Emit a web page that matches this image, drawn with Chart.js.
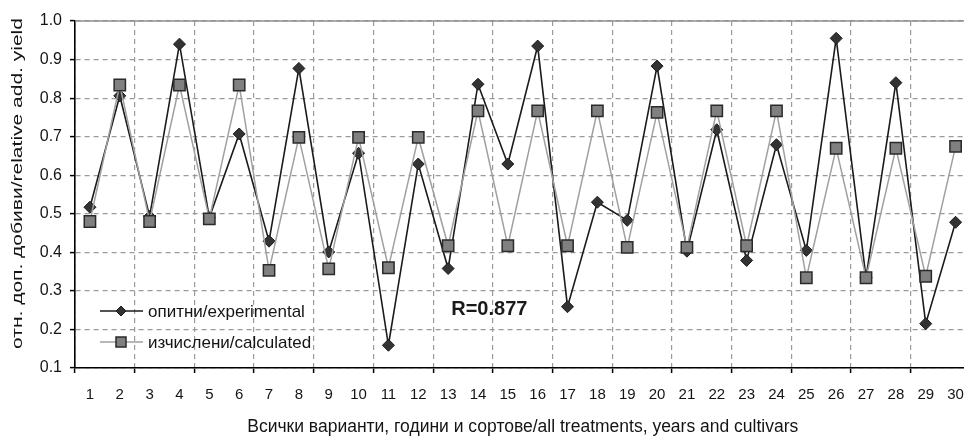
<!DOCTYPE html>
<html>
<head>
<meta charset="utf-8">
<script src="https://cdn.jsdelivr.net/npm/chart.js@4.4.1/dist/chart.umd.min.js"></script>
<style>
  html, body { margin: 0; padding: 0; background: #fff; }
  #wrap { width: 964px; height: 436px; overflow: hidden; position: relative; }
  canvas { display: block; }
</style>
</head>
<body>
<div id="wrap"><canvas id="chart" width="980" height="436"></canvas></div>
<script>
// Treatments / years / cultivars, numbered 1..30
const categories = ['1','2','3','4','5','6','7','8','9','10','11','12','13','14','15',
                    '16','17','18','19','20','21','22','23','24','25','26','27','28','29','30'];

// Relative additional yield, measured in the trials
const experimental = [0.517, 0.806, 0.493, 0.940, 0.490, 0.707, 0.429, 0.877, 0.401, 0.657,
                      0.159, 0.629, 0.358, 0.836, 0.629, 0.935, 0.259, 0.530, 0.483, 0.883,
                      0.403, 0.718, 0.379, 0.679, 0.405, 0.955, 0.335, 0.840, 0.215, 0.478];

// Relative additional yield, calculated by the model
const calculated = [0.480, 0.834, 0.480, 0.834, 0.487, 0.834, 0.353, 0.698, 0.357, 0.698,
                    0.360, 0.698, 0.417, 0.767, 0.417, 0.767, 0.417, 0.767, 0.413, 0.763,
                    0.413, 0.767, 0.417, 0.767, 0.334, 0.670, 0.334, 0.670, 0.338, 0.675];

const seriesLabels = ['опитни/experimental', 'изчислени/calculated'];
const yMin = 0.1, yMax = 1.0, yStep = 0.1;
const xTitle = 'Всички варианти, години и сортове/all treatments, years and cultivars';
const yTitle = 'отн. доп. добиви/relative add. yield';
const correlationText = 'R=0.877';

const FONT = "'Liberation Sans', Arial, sans-serif";
const TEXT = '#141414';
const GRID = '#9a9a9a';

// Frame line along the top of the plot, the y title, the in-plot legend and the R label
const decorations = {
  id: 'decorations',
  afterDatasetsDraw(chart) {
    const { ctx, chartArea: a, scales } = chart;
    ctx.save();
    ctx.strokeStyle = '#8f8f8f';
    ctx.lineWidth = 1.5;
    ctx.beginPath();
    ctx.moveTo(a.left, a.top);
    ctx.lineTo(a.right, a.top);
    ctx.stroke();

    // legend
    const ds = chart.data.datasets;
    const rows = [a.bottom - 57, a.bottom - 26];
    const x0 = a.left + 25, x1 = a.left + 68, xm = a.left + 46;
    ds.forEach((d, i) => {
      const y = rows[i];
      ctx.strokeStyle = d.borderColor;
      ctx.lineWidth = d.borderWidth;
      ctx.beginPath();
      ctx.moveTo(x0, y);
      ctx.lineTo(x1, y);
      ctx.stroke();
      ctx.fillStyle = d.pointBackgroundColor;
      ctx.strokeStyle = d.pointBorderColor;
      ctx.lineWidth = d.pointBorderWidth;
      ctx.beginPath();
      if (d.pointStyle === 'rectRot') {
        const r = 5;
        ctx.moveTo(xm, y - r); ctx.lineTo(xm + r, y); ctx.lineTo(xm, y + r); ctx.lineTo(xm - r, y);
        ctx.closePath();
      } else {
        const h = 5;
        ctx.rect(xm - h, y - h, 2 * h, 2 * h);
      }
      ctx.fill();
      ctx.stroke();
      ctx.fillStyle = TEXT;
      ctx.font = `17px ${FONT}`;
      ctx.textAlign = 'left';
      ctx.textBaseline = 'middle';
      ctx.fillText(d.label, x1 + 5, y + 1);
    });

    // correlation coefficient
    ctx.font = `bold 20px ${FONT}`;
    ctx.fillStyle = '#1a1a1a';
    ctx.textAlign = 'center';
    ctx.textBaseline = 'middle';
    ctx.fillText(correlationText, scales.x.getPixelForValue(13.38), scales.y.getPixelForValue(0.252));
    ctx.restore();
  },
  afterDraw(chart) {
    // y axis title, set in a tall narrow face
    const { ctx, chartArea: a } = chart;
    ctx.save();
    ctx.translate(18, (a.top + a.bottom) / 2 - 11);
    ctx.rotate(-Math.PI / 2);
    ctx.scale(1.5, 1);
    ctx.font = `14px ${FONT}`;
    ctx.fillStyle = TEXT;
    ctx.textAlign = 'center';
    ctx.textBaseline = 'middle';
    ctx.fillText(yTitle, 0, 0);
    ctx.restore();
  }
};

new Chart(document.getElementById('chart'), {
  type: 'line',
  data: {
    labels: categories,
    datasets: [
      {
        label: seriesLabels[0],
        data: experimental,
        order: 1,
        borderColor: '#1b1b1b',
        borderWidth: 1.6,
        tension: 0,
        pointStyle: 'rectRot',
        pointRadius: 6,
        pointHoverRadius: 6,
        pointBackgroundColor: '#333333',
        pointBorderColor: '#1b1b1b',
        pointBorderWidth: 1
      },
      {
        label: seriesLabels[1],
        data: calculated,
        order: 0,
        borderColor: '#a0a0a0',
        borderWidth: 1.5,
        tension: 0,
        pointStyle: 'rect',
        pointRadius: 8,
        pointHoverRadius: 8,
        pointBackgroundColor: '#808080',
        pointBorderColor: '#2a2a2a',
        pointBorderWidth: 1.5
      }
    ]
  },
  options: {
    responsive: false,
    animation: false,
    devicePixelRatio: 1,
    layout: { padding: { top: 21, right: 8, bottom: 0, left: 0 } },
    plugins: { legend: { display: false }, tooltip: { enabled: false } },
    scales: {
      x: {
        offset: true,
        ticks: { font: { family: FONT, size: 15 }, color: TEXT, padding: 13, autoSkip: false, maxRotation: 0 },
        grid: {
          offset: true,
          color: c => (c.index % 2 === 0 ? GRID : 'rgba(0,0,0,0)'),
          tickColor: c => (c.index % 2 === 0 ? '#000' : 'rgba(0,0,0,0)'),
          lineWidth: 1.2,
          tickWidth: 1.5,
          tickLength: 5
        },
        border: { color: '#000', width: 1.6, dash: [5, 4] },
        title: {
          display: true, text: xTitle, color: TEXT,
          font: { family: FONT, size: 17.5, lineHeight: 1.0 }, padding: { top: 0, bottom: 0 }
        },
        afterFit: s => { s.height = 68; }
      },
      y: {
        min: yMin, max: yMax,
        ticks: { stepSize: yStep, font: { family: FONT, size: 16 }, color: TEXT, padding: 8,
                 callback: v => Number(v).toFixed(1) },
        grid: { color: GRID, lineWidth: 1.2, tickColor: '#000', tickWidth: 1.5, tickLength: 5 },
        border: { color: '#000', width: 1.6, dash: [5, 4] },
        title: { display: false },
        afterFit: s => { s.width = 75; }
      }
    }
  },
  plugins: [decorations]
});
</script>
</body>
</html>
